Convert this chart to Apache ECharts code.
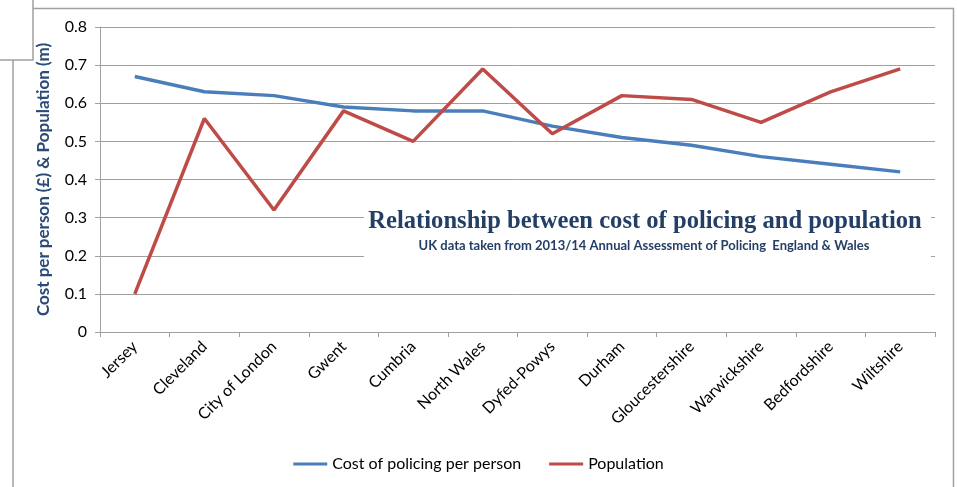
<!DOCTYPE html>
<html>
<head>
<meta charset="utf-8">
<script src="https://cdn.jsdelivr.net/npm/echarts@6/dist/echarts.min.js"></script>
<style>html,body{margin:0;padding:0;background:#fff;}#c{width:957px;height:487px;}</style>
</head>
<body>
<div id="c"></div>
<script>
const categories = ["Jersey","Cleveland","City of London","Gwent","Cumbria","North Wales","Dyfed-Powys","Durham","Gloucestershire","Warwickshire","Bedfordshire","Wiltshire"];
const costPerPerson = [0.67,0.63,0.62,0.59,0.58,0.58,0.54,0.51,0.49,0.46,0.44,0.42];
const population = [0.10,0.56,0.32,0.58,0.50,0.69,0.52,0.62,0.61,0.55,0.63,0.69];
const yTicks = {min:0, max:0.8, interval:0.1};

const chart = echarts.init(document.getElementById('c'));
const font = 'Lato, "Open Sans", sans-serif';
chart.setOption({
  animation:false,
  backgroundColor:'#fff',
  grid:{left:100,right:22,top:27,bottom:155,containLabel:false},
  legend:{
    bottom:10,left:'center',itemWidth:34,itemHeight:3,itemGap:28,
    icon:'rect',
    textStyle:{fontFamily:font,fontSize:16,color:'#000'},
    data:['Cost of policing per person','Population']
  },
  xAxis:{
    type:'category',data:categories,boundaryGap:true,
    axisLine:{lineStyle:{color:'#a0a0a0',width:1}},
    axisTick:{show:true,length:5,lineStyle:{color:'#a0a0a0'}},
    axisLabel:{rotate:45,fontFamily:font,fontSize:16,color:'#000',margin:12,interval:0}
  },
  yAxis:{
    type:'value',min:yTicks.min,max:yTicks.max,interval:yTicks.interval,
    name:'Cost per person (£) & Population (m)',nameLocation:'middle',nameGap:48,
    nameTextStyle:{fontFamily:font,fontSize:17,fontWeight:'bold',color:'#2a4a78'},
    axisLine:{show:true,lineStyle:{color:'#a0a0a0'}},
    axisTick:{show:true,length:5,lineStyle:{color:'#a0a0a0'}},
    splitLine:{lineStyle:{color:'#a0a0a0',width:1}},
    axisLabel:{fontFamily:font,fontSize:16,color:'#000',margin:13,formatter:v=>String(Math.round(v*10)/10)}
  },
  series:[
    {name:'Cost of policing per person',type:'line',data:costPerPerson,symbol:'none',smooth:false,
     lineStyle:{color:'#4a7ebb',width:3.5},itemStyle:{color:'#4a7ebb'}},
    {name:'Population',type:'line',data:population,symbol:'none',
     lineStyle:{color:'#be4b48',width:3.5},itemStyle:{color:'#be4b48'}}
  ],
  graphic:[
    {type:'polyline',shape:{points:[[13,487],[13,60]]},style:{stroke:'#a0a0a0',lineWidth:1.5,fill:null},silent:true},
    {type:'polyline',shape:{points:[[33,8.5],[953.5,8.5],[953.5,487]]},style:{stroke:'#a0a0a0',lineWidth:1.5,fill:null},silent:true},
    {type:'polyline',shape:{points:[[33,0],[33,60],[0,60]]},style:{stroke:'#a0a0a0',lineWidth:1.5,fill:null},silent:true},
    {type:'rect',shape:{x:364,y:203,width:567,height:60},style:{fill:'#fff'},z:5,silent:true},
    {type:'text',x:645,y:222,z:6,style:{text:'Relationship between cost of policing and population',font:'bold 24.6px "Liberation Serif", "DejaVu Serif", serif',fill:'#243f66',textAlign:'center',textVerticalAlign:'middle'}},
    {type:'text',x:644,y:246,z:6,style:{text:'UK data taken from 2013/14 Annual Assessment of Policing  England & Wales',font:'bold 13px Lato, "Open Sans", sans-serif',fill:'#243f66',textAlign:'center',textVerticalAlign:'middle'}}
  ]
});
</script>
</body>
</html>
